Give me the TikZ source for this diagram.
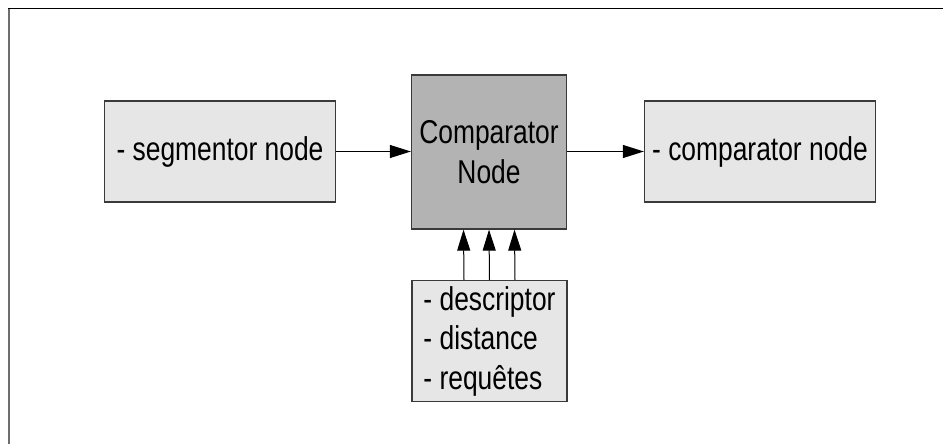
\documentclass[tikz,border=0pt]{standalone}
\usepackage{fontspec}
\setmainfont{Liberation Sans}[FakeStretch=0.80]
\usetikzlibrary{arrows.meta}
\definecolor{lightbox}{HTML}{E6E6E6}
\definecolor{darkbox}{HTML}{B3B3B3}
\definecolor{edgecol}{HTML}{3A3A3A}
\begin{document}
\begin{tikzpicture}[x=1pt,y=-1pt,
  box/.style={draw=edgecol, line width=1.3pt, inner sep=0pt, font=\fontsize{33}{39.5}\selectfont},
  lbox/.style={box, fill=lightbox},
  dbox/.style={box, fill=darkbox},
  conn/.style={line width=1pt, -{Triangle[length=21pt,width=13pt]}}]
\useasboundingbox (0,0) rectangle (943,444);
\fill[white] (0,0) rectangle (943,444);
\draw[line width=2pt, draw={rgb,255:red,110;green,110;blue,110}] (9,444) -- (9,8.5);
\draw[line width=1pt, black] (8,8.5) -- (943,8.5);
\node[lbox, minimum width=231pt, minimum height=101pt] (seg) at (220,151.5) {- segmentor node};
\node[dbox, minimum width=155pt, minimum height=154pt, align=center] (comp) at (489,152) {Comparator\\Node};
\node[lbox, minimum width=231pt, minimum height=101pt] (out) at (760,151.5) {- comparator node};
\node[lbox, minimum width=155pt, minimum height=121pt, align=left] (par) at (489.5,341.3) {- descriptor\\- distance\\- requêtes};
\draw[conn] (seg.east) -- (comp.west |- seg.east);
\draw[conn] (comp.east |- out.west) -- (out.west);
\draw[conn] ([xshift=-25.5pt]par.north) -- ([xshift=-25.5pt]comp.south);
\draw[conn] (par.north) -- (comp.south);
\draw[conn] ([xshift=25.5pt]par.north) -- ([xshift=25.5pt]comp.south);
\end{tikzpicture}
\end{document}
